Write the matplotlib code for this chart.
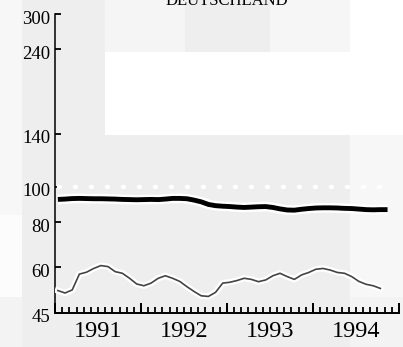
import numpy as np
import matplotlib
matplotlib.use("Agg")
import matplotlib.pyplot as plt
from matplotlib.patches import Rectangle
import matplotlib.patheffects as pe
from matplotlib.transforms import ScaledTranslation
from matplotlib.ticker import FixedLocator, NullLocator, NullFormatter

# ---------------- data ----------------
title = "DEUTSCHLAND"
year_labels = ["1991", "1992", "1993", "1994"]
year_label_months = [6, 18, 30, 42]          # mid-year
year_boundaries = [0, 12, 24, 36, 48]        # months since Jan 1991
month_ticks = list(range(0, 49))
y_ticks = [45, 60, 80, 100, 140, 240, 300]
reference_level = 100

thick_values = [92.4, 92.6, 92.9, 93.0, 92.9, 92.8, 92.8, 92.7, 92.6, 92.4,
                92.3, 92.2, 92.3, 92.4, 92.3, 92.6, 93.0, 93.0, 92.8, 92.0,
                91.0, 89.5, 88.8, 88.5, 88.3, 88.0, 87.8, 88.0, 88.2, 88.3,
                87.8, 87.0, 86.4, 86.3, 86.8, 87.2, 87.5, 87.6, 87.6, 87.5,
                87.3, 87.2, 86.9, 86.6, 86.5, 86.6, 86.6]
thin_values = [51.8, 51.0, 52.0, 57.5, 58.2, 59.6, 60.7, 60.3, 58.4, 57.8,
               56.0, 54.0, 53.4, 54.3, 56.0, 56.9, 56.0, 54.9, 53.1, 51.5,
               50.1, 49.9, 51.2, 54.3, 54.6, 55.2, 56.0, 55.6, 54.8, 55.4,
               56.9, 57.8, 56.6, 55.6, 57.2, 58.1, 59.3, 59.6, 59.0, 58.1,
               57.8, 56.6, 54.9, 53.9, 53.4, 52.5]
first_month = 0.4

# ---------------- figure ----------------
W, H = 403, 347
fig = plt.figure(figsize=(W / 100, H / 100), dpi=100)
fig.patch.set_facecolor("white")

def bg(x0, y0, x1, y1, c):
    fig.patches.append(Rectangle((x0 / W, 1 - y1 / H), (x1 - x0) / W, (y1 - y0) / H,
                                 transform=fig.transFigure, facecolor=c,
                                 edgecolor="none", zorder=-10))

bg(0, 0, 22, 215, "#f7f7f7")
bg(0, 215, 22, 297, "#fcfcfc")
bg(0, 297, 22, 347, "#f3f3f3")
bg(22, 0, 105, 347, "#eeeeee")
bg(105, 0, 185, 52, "#f5f5f5")
bg(185, 0, 270, 52, "#eeeeee")
bg(270, 0, 350, 52, "#f6f6f6")
bg(105, 135, 350, 347, "#eeeeee")
bg(350, 135, 403, 297, "#f7f7f7")
bg(350, 297, 403, 347, "#f3f3f3")

serif = ["Liberation Serif", "DejaVu Serif"]

ax = fig.add_axes([55 / W, 34.3 / H, 344 / W, (312.7 - 14) / H])
ax.patch.set_alpha(0)
ax.set_yscale("log")
ax.set_ylim(45, 300)
ax.set_xlim(0, 48)

for s in ["top", "right"]:
    ax.spines[s].set_visible(False)
ax.spines["left"].set_linewidth(1.1)
ax.spines["bottom"].set_linewidth(1.4)

# y ticks
ax.yaxis.set_major_locator(FixedLocator(y_ticks))
ax.yaxis.set_minor_locator(NullLocator())
ax.yaxis.set_minor_formatter(NullFormatter())
ax.set_yticklabels([str(v) for v in y_ticks], family=serif, fontsize=13.5)
ax.tick_params(axis="y", direction="in", length=4.5, width=1.3, pad=3.5)
off = ScaledTranslation(0, -3 / 100, fig.dpi_scale_trans)
for lbl in ax.get_yticklabels():
    lbl.set_transform(lbl.get_transform() + off)

# x: year labels at mid-year (no tick marks)
ax.xaxis.set_major_locator(FixedLocator(year_label_months))
ax.set_xticklabels(year_labels, family=serif, fontsize=17.5)
ax.xaxis.set_minor_locator(NullLocator())
ax.tick_params(axis="x", which="major", length=0, pad=6)

# monthly and year-boundary tick marks along the bottom axis
xb = ax.get_xaxis_transform()
ax.vlines(month_ticks, 0, 0.019, transform=xb, colors="black",
          linewidth=1.3, clip_on=False, zorder=5)
ax.vlines(year_boundaries, 0, 0.032, transform=xb, colors="black",
          linewidth=1.4, clip_on=False, zorder=5)

# reference line
ax.plot([0.6, 46.6], [reference_level, reference_level], color="white", lw=3.2,
        linestyle=(0, (0.2, 3.4)), dash_capstyle="round", zorder=2)

months_thick = first_month + np.arange(len(thick_values))
months_thin = first_month + np.arange(len(thin_values))

ax.plot(months_thin, thin_values, color="#444444", lw=1.2, zorder=3,
        path_effects=[pe.Stroke(linewidth=4.5, foreground="white"), pe.Normal()])
ax.plot(months_thick, thick_values, color="black", lw=3.5, zorder=4,
        solid_capstyle="butt",
        path_effects=[pe.Stroke(linewidth=7, foreground="white"), pe.Normal()])

fig.text(226.5 / W, 1 - 5 / H, title, family=serif, fontsize=12,
         ha="center", va="baseline")

fig.savefig("out.png", dpi=100)
